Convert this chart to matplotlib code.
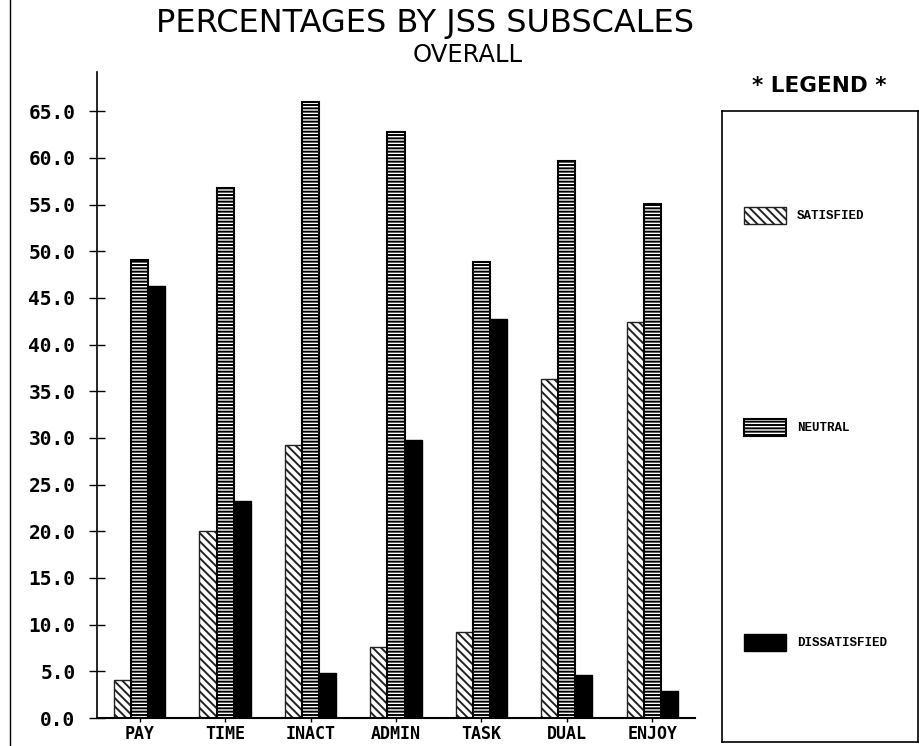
import numpy as np
import matplotlib
matplotlib.use("Agg")
import matplotlib.pyplot as plt
import matplotlib.patches as patches
from matplotlib.lines import Line2D

# data
categories = ["PAY", "TIME", "INACT", "ADMIN", "TASK", "DUAL", "ENJOY"]
satisfied = [4.1, 20.0, 29.2, 7.6, 9.2, 36.3, 42.4]
neutral = [49.1, 56.8, 66.0, 62.8, 48.8, 59.7, 55.1]
dissatisfied = [46.3, 23.2, 4.85, 29.8, 42.7, 4.6, 2.9]
series_names = ["SATISFIED", "NEUTRAL", "DISSATISFIED"]
yticks = np.arange(0, 66, 5)

plt.rcParams["hatch.linewidth"] = 1.4
tick_font = dict(family="DejaVu Sans Mono", weight="bold", size=14)
xtick_font = dict(family="DejaVu Sans Mono", weight="bold", size=12)

fig = plt.figure(figsize=(9.2, 7.46), dpi=100)
ax = fig.add_axes([0.1054, 0.0375, 0.65, 0.866])

x = np.arange(len(categories))
w = 0.2
styles = [
    dict(color="white", edgecolor="#222222", hatch="\\\\\\\\", lw=1.0),
    dict(color="white", edgecolor="black", hatch="-----", lw=1.5),
    dict(color="black", edgecolor="black", lw=1.0),
]
for i, vals in enumerate([satisfied, neutral, dissatisfied]):
    ax.bar(x + (i - 1) * w, vals, w, **styles[i])

ax.set_xlim(-0.5, 6.5)
ax.set_ylim(0, 69.2)
ax.spines["top"].set_visible(False)
ax.spines["right"].set_visible(False)
ax.spines["left"].set_linewidth(1.2)
ax.spines["bottom"].set_linewidth(1.5)
ax.set_yticks(yticks)
ax.set_yticklabels(["%.1f" % v for v in yticks], **tick_font)
ax.set_xticks(x)
ax.set_xticklabels(categories, **xtick_font)
ax.tick_params(axis="y", direction="inout", length=11, width=1.0, pad=10)
ax.tick_params(axis="x", direction="out", length=3, width=1.0, pad=2)

fig.text(0.462, 0.969, "PERCENTAGES BY JSS SUBSCALES", ha="center", va="center",
         family="DejaVu Sans", size=23)
fig.text(0.508, 0.926, "OVERALL", ha="center", va="center",
         family="DejaVu Sans", size=17.5)
fig.text(0.89, 0.885, "* LEGEND *", ha="center", va="center",
         family="DejaVu Sans", weight="bold", size=15.5)

# page border on the left
fig.add_artist(Line2D([0.011, 0.011], [0, 1], color="black", lw=1.0))

# legend box
lax = fig.add_axes([0.785, 0.005, 0.213, 0.846])
lax.set_xlim(0, 1)
lax.set_ylim(0, 1)
lax.set_xticks([])
lax.set_yticks([])
for s in lax.spines.values():
    s.set_linewidth(1.2)
swatch_y = [0.834, 0.498, 0.158]
for i, name in enumerate(series_names):
    st = dict(styles[i])
    fc = st.pop("color")
    lw = st.pop("lw")
    lax.add_patch(patches.Rectangle((0.112, swatch_y[i] - 0.0135), 0.215, 0.027,
                                    facecolor=fc, linewidth=lw, **st))
    lax.text(0.38, swatch_y[i], name, ha="left", va="center",
             family="Liberation Mono", weight="bold", size=9)

fig.savefig("out.png", dpi=100)
